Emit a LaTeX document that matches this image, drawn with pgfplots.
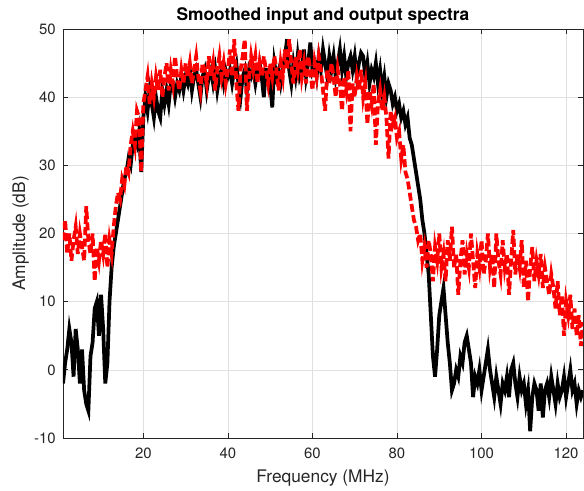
\documentclass[border=0pt]{standalone}
\usepackage{fontspec}
\setmainfont{TeX Gyre Heros}
\usepackage{pgfplots}
\pgfplotsset{compat=1.18}
\definecolor{axgray}{rgb}{0.15,0.15,0.15}
\begin{document}
\begin{tikzpicture}
\begin{axis}[
    scale only axis,
    width=390pt, height=306.75pt,
    xmin=1, xmax=124, ymin=-10, ymax=50,
    xtick={20,40,...,120}, ytick={-10,0,...,50},
    tick align=inside, major tick length=3.75pt,
    axis line style={axgray, line width=0.5pt},
    tick style={axgray, line width=0.5pt},
    grid=major, major grid style={black!12, line width=0.4pt},
    ticklabel style={font=\fontsize{11.2}{13}\selectfont, text=axgray},
    /pgf/number format/assume math mode=true,
    xticklabel style={yshift=-4pt},
    yticklabel style={xshift=-2pt},
    label style={font=\fontsize{13}{15}\selectfont, text=axgray},
    xlabel={Frequency (MHz)},
    ylabel={Amplitude (dB)},
    xlabel style={at={(axis description cs:0.5,-0.109)}, anchor=base},
    ylabel style={at={(axis description cs:-0.073,0.5)}, anchor=base},
    title={Smoothed input and output spectra},
    every axis title shift=0pt,
    title style={font=\fontsize{13}{15}\selectfont\bfseries, at={(axis description cs:0.5,1.02)}, anchor=base},
]
% input spectrum (black)
\addplot[black, line width=2.8pt] coordinates {
(1,-2)(1.5,1)(2,3)(2.5,6)(3,4)(3.5,-1)(4,6)(4.5,3)(5,-2)(5.5,3)(6,-3)(6.5,-5)(7,-6)(7.5,2)(8,4)(8.5,9)(9,10)(9.5,5)(10,11)(10.5,6)(11,-2)(11.5,1)(12,10)(12.5,15)(13,18)
(13.5,20)(14,22)(14.5,24)(15,26)(15.5,28)(16,29)(16.5,31)(17,30)(17.5,33)(18,34)(18.5,33)(19,35)(19.5,29)(20,37)
(20.5,40)(21,38)(21.5,41)(22,39)(22.5,37)(23,40)(23.5,38)(24,37)(24.5,41)(25,39)(25.5,41)(26,39)(26.5,42)(27,42)(27.5,40)(28,42)(28.5,41)(29,43)(29.5,41)(30,43)
(30.5,42)(31,44)(31.5,41)(32,43)(32.5,44)(33,42)(33.5,40)(34,43)(34.5,44)(35,41)(35.5,43)(36,44)(36.5,42)(37,44)(37.5,41)(38,43)(38.5,44)(39,42)(39.5,44)(40,43)
(40.5,44)(41,42)(41.5,44)(42,45)(42.5,42)(43,40)(43.5,43)(44,44)(44.5,41)(45,44)(45.5,43)(46,44)(46.5,42)(47,44)(47.5,45)(48,43)(48.5,40)(49,44)(49.5,44)(50,42)
(50.5,38.5)(51,45)(51.5,43)(52,44)(52.5,42)(53,44)(53.5,46)(54,48.5)(54.5,44)(55,42)(55.5,45)(56,43)(56.5,46)(57,43)(57.5,44)(58,47)(58.5,43)(59,45)(59.5,48)(60,44)
(60.5,45)(61,43)(61.5,46)(62,44)(62.5,47)(63,45)(63.5,43)(64,46)(64.5,44)(65,46)(65.5,43)(66,45)(66.5,47)(67,44)(67.5,46)(68,43)(68.5,45)(69,46)(69.5,44)(70,46)
(70.5,43)(71,45)(71.5,46.5)(72,46)(72.5,43)(73,45)(73.5,42)(74,44)(74.5,43)(75,45)(75.5,42)(76,44)(76.5,41)(77,43)(77.5,40)(78,42)(78.5,41)(79,39)(79.5,40)(80,38)
(80.5,39)(81,37)(81.5,38)(82,36)(82.5,37)(83,34)(83.5,33)(84,31)(84.5,29)(85,27)(85.5,25)(86,22)(86.5,20)(87,17)(87.5,14)(88,8)(88.5,2)(89,-1)(89.5,3)(90,8)
(90.5,10)(91,12)(91.5,8)(92,4)(92.5,1)(93,-3)(93.5,-2)(94,0)(94.5,-1)(95,2)(95.5,1)(96,4)(96.5,5)(97,3)(97.5,1)(98,-4)(98.5,-1)(99,-2)(99.5,0)(100,-3)
(100.5,-1)(101,1)(101.5,3)(102,0)(102.5,-2)(103,-4)(103.5,-1)(104,-3)(104.5,-5)(105,-2)(105.5,-3)(106,-1)(106.5,-4)(107,0)(107.5,1)(108,-2)(108.5,-4)(109,-1)(109.5,-3)(110,-2)
(110.5,-5)(111,-3)(111.5,-9)(112,-4)(112.5,-2)(113,-3)(113.5,-6)(114,-2)(114.5,-7)(115,-3)(115.5,-2)(116,-4)(116.5,-1)(117,-3)(117.5,-5)(118,-2)(118.5,-4)(119,-3)(119.5,-1)(120,-4)
(120.5,-2)(121,0)(121.5,-3)(122,-2)(122.5,-5)(123,-3)(123.5,-4)(124,-3)
};
% output spectrum (red, dashed)
\addplot[red, line width=2.8pt, dash pattern=on 6pt off 2.5pt] coordinates {
(1,19)(1.5,22)(2,17)(2.5,20)(3,16)(3.5,19)(4,21)(4.5,17)(5,20)(5.5,18)(6,16)(6.5,24)(7,19)(7.5,17)(8,20)(8.5,13)(9,18)(9.5,16)(10,19)(10.5,17)(11,20)(11.5,15)(12,19)(12.5,17)(13,21)
(13.5,24)(14,26)(14.5,25)(15,28)(15.5,27)(16,30)(16.5,29)(17,33)(17.5,35)(18,33)(18.5,38)(19,37)(19.5,29)(20,39)
(20.5,41)(21,43)(21.5,39)(22,42)(22.5,40)(23,43)(23.5,41)(24,44)(24.5,40)(25,43)(25.5,45)(26,41)(26.5,44)(27,42)(27.5,46)(28,43)(28.5,41)(29,44)(29.5,42)(30,45)
(30.5,43)(31,45)(31.5,42)(32,44)(32.5,46)(33,43)(33.5,41)(34,45)(34.5,44)(35,42)(35.5,46)(36,43)(36.5,45)(37,41)(37.5,44)(38,46)(38.5,43)(39,45)(39.5,42)(40,44)
(40.5,47)(41,43)(41.5,48.5)(42,42)(42.5,38)(43,44)(43.5,46)(44,48.5)(44.5,38)(45,43)(45.5,46)(46,44)(46.5,46)(47,42)(47.5,45)(48,43)(48.5,46)(49,44)(49.5,42)(50,45)
(50.5,43)(51,46)(51.5,44)(52,41)(52.5,45)(53,43)(53.5,47)(54,44)(54.5,48.5)(55,45)(55.5,42)(56,46)(56.5,44)(57,47)(57.5,43)(58,45)(58.5,42)(59,46)(59.5,44)(60,41)
(60.5,45)(61,43)(61.5,46)(62,44)(62.5,41)(63,38)(63.5,44)(64,42)(64.5,45)(65,43)(65.5,40)(66,44)(66.5,42)(67,38)(67.5,43)(68,41)(68.5,44)(69,35)(69.5,42)(70,40)
(70.5,43)(71,41)(71.5,44)(72,40)(72.5,42)(73,36)(73.5,41)(74,39)(74.5,42)(75,33)(75.5,39)(76,41)(76.5,38)(77,40)(77.5,37)(78,31)(78.5,38)(79,36)(79.5,37)(80,34)
(80.5,35)(81,31)(81.5,33)(82,29)(82.5,28)(83,26)(83.5,24)(84,22)(84.5,21)(85,19)(85.5,20)(86,16)(86.5,18)(87,15)(87.5,19)(88,17)(88.5,13)(89,18)(89.5,16)(90,20)
(90.5,15)(91,17)(91.5,13)(92,19)(92.5,16)(93,21)(93.5,15)(94,17)(94.5,11)(95,16)(95.5,19)(96,14)(96.5,17)(97,15)(97.5,20)(98,16)(98.5,12)(99,17)(99.5,15)(100,19)
(100.5,14)(101,16)(101.5,20)(102,15)(102.5,17)(103,12)(103.5,20)(104,16)(104.5,14)(105,19)(105.5,15)(106,17)(106.5,11)(107,16)(107.5,20.5)(108,14)(108.5,17)(109,15)(109.5,19)(110,12)
(110.5,16)(111,10)(111.5,15)(112,18)(112.5,13)(113,16)(113.5,14)(114,17)(114.5,12)(115,15)(115.5,13)(116,11)(116.5,14)(117,12)(117.5,9)(118,13)(118.5,8)(119,11)(119.5,5)(120,10)
(120.5,8)(121,11)(121.5,6)(122,9)(122.5,5)(123,8)(123.5,3.5)(124,7)
};
\end{axis}
\pgfresetboundingbox
\useasboundingbox (-47.25pt,-39.75pt) rectangle (390.75pt,328.5pt);
\end{tikzpicture}
\end{document}
